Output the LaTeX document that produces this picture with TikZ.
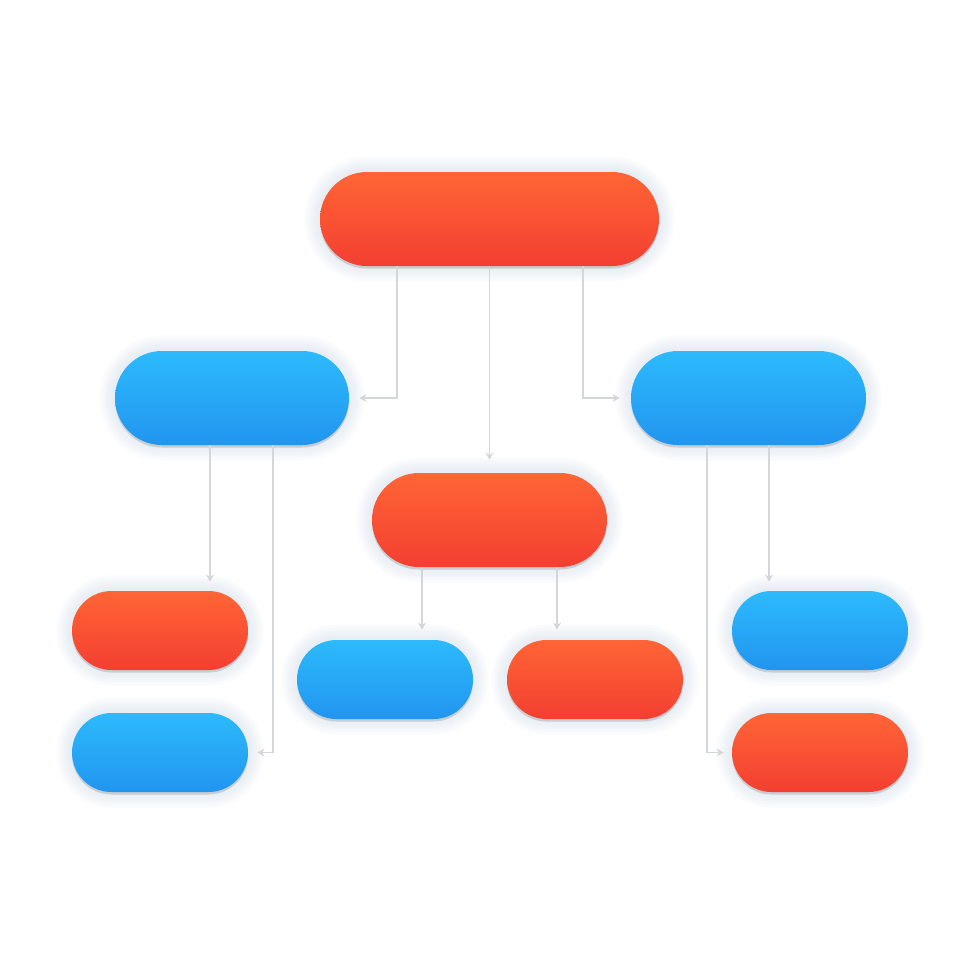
\documentclass[tikz,border=0pt]{standalone}
\usetikzlibrary{arrows.meta}
\definecolor{redtop}{HTML}{FF6536}
\definecolor{redbot}{HTML}{F33F31}
\definecolor{bluetop}{HTML}{2DBAFC}
\definecolor{bluebot}{HTML}{2195EF}
\definecolor{halo}{HTML}{E6EDF3}
\definecolor{connc}{HTML}{D4D7DA}
\tikzset{
  pill/.style={rectangle, inner sep=0pt, minimum width=#1,
    preaction={draw=halo, opacity=.18, line width=0.62cm},
    preaction={draw=halo, opacity=.22, line width=0.5cm},
    preaction={draw=halo, opacity=.28, line width=0.38cm},
    preaction={draw=halo, opacity=.4, line width=0.26cm},
    preaction={draw=halo, opacity=.5, line width=0.14cm},
    preaction={fill=black!30!halo, opacity=.45, transform canvas={yshift=-0.05cm}}},
  bigpill/.style={pill=#1, minimum height=1.88cm, rounded corners=0.94cm},
  smallpill/.style={pill=3.52cm, minimum height=1.58cm, rounded corners=0.79cm},
  redfill/.style={top color=redtop, bottom color=redbot},
  bluefill/.style={top color=bluetop, bottom color=bluebot},
  conn/.style={draw=connc, line width=1.1pt, -{Stealth[length=4pt,width=4.5pt]}}
}
\begin{document}
\begin{tikzpicture}
\useasboundingbox[fill=white] (0,0) rectangle (19.6,-19.6);
\node[bigpill=6.78cm, redfill] (top) at (9.79,-4.38) {};
\node[bigpill=4.68cm, bluefill] (lb) at (4.64,-7.96) {};
\node[bigpill=4.70cm, bluefill] (rb) at (14.97,-7.96) {};
\node[bigpill=4.70cm, redfill] (mid) at (9.79,-10.40) {};
\node[smallpill, redfill] (lsr) at (3.20,-12.61) {};
\node[smallpill, bluefill] (lsb) at (3.20,-15.05) {};
\node[smallpill, bluefill] (mbb) at (7.70,-13.59) {};
\node[smallpill, redfill] (mbr) at (11.90,-13.59) {};
\node[smallpill, bluefill] (rsb) at (16.40,-12.61) {};
\node[smallpill, redfill] (rsr) at (16.40,-15.05) {};

\draw[conn, shorten >=0.2cm] ([xshift=-1.85cm]top.south) |- (lb.east);
\draw[conn, shorten >=0.26cm] (top.south) -- (mid.north);
\draw[conn, shorten >=0.22cm] ([xshift=1.87cm]top.south) |- (rb.west);

\draw[conn, shorten >=0.18cm] ([xshift=-0.44cm]lb.south) -- ([xshift=-0.44cm]lb.south |- lsr.north);
\draw[conn, shorten >=0.18cm] ([xshift=0.82cm]lb.south) |- (lsb.east);

\draw[conn, shorten >=0.2cm] ([xshift=-1.35cm]mid.south) -- ([xshift=-1.35cm]mid.south |- mbb.north);
\draw[conn, shorten >=0.2cm] ([xshift=1.35cm]mid.south) -- ([xshift=1.35cm]mid.south |- mbr.north);

\draw[conn, shorten >=0.18cm] ([xshift=0.41cm]rb.south) -- ([xshift=0.41cm]rb.south |- rsb.north);
\draw[conn, shorten >=0.16cm] ([xshift=-0.83cm]rb.south) |- (rsr.west);
\end{tikzpicture}
\end{document}
